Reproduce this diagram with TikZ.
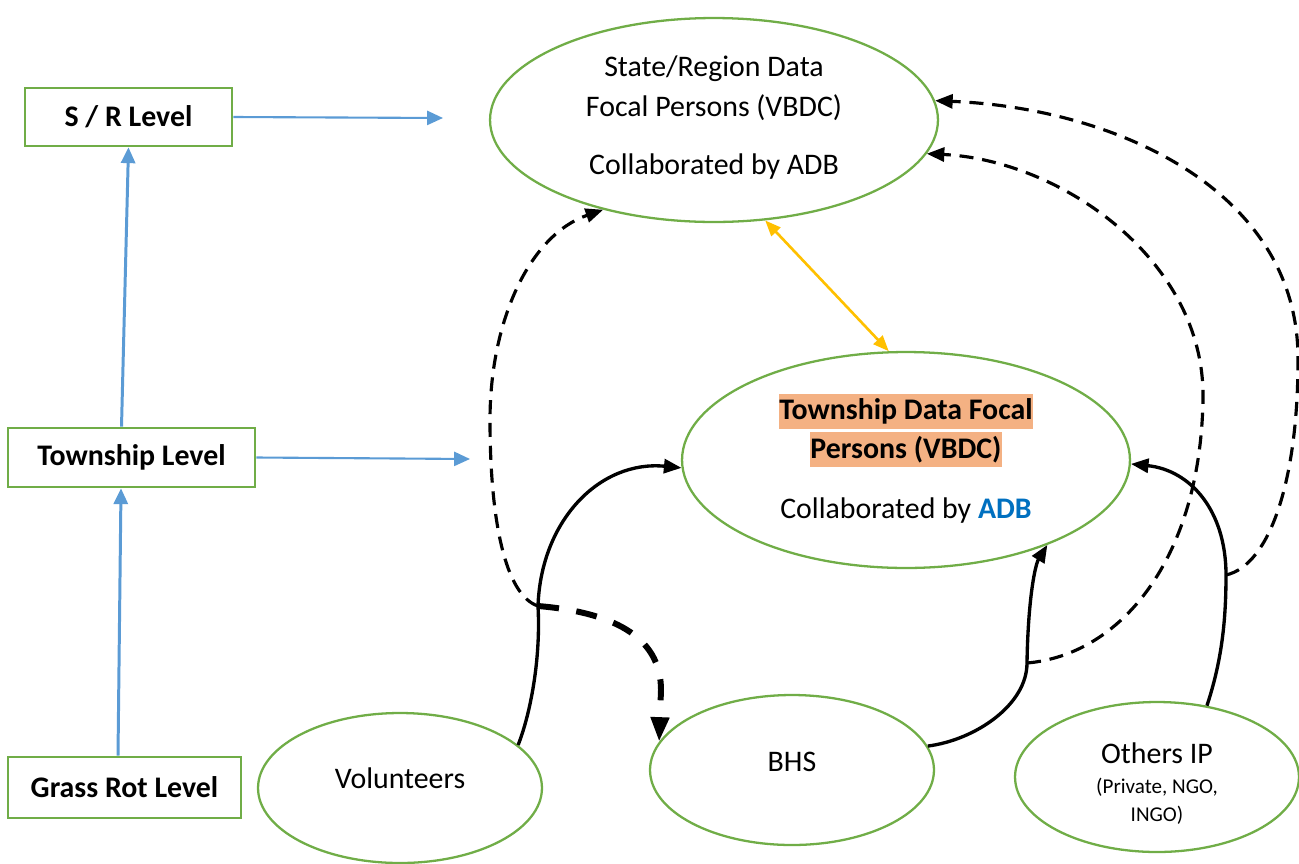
\documentclass[tikz,border=0pt]{standalone}
\usepackage{fontspec}
\setmainfont{Carlito}
\usepackage{xcolor}
\usetikzlibrary{positioning}
\usetikzlibrary{arrows.meta}
\usetikzlibrary{shapes.geometric}
\definecolor{boxgreen}{HTML}{70AD47}
\definecolor{lineblue}{HTML}{5B9BD5}
\definecolor{linegold}{HTML}{FFC000}
\definecolor{hlorange}{HTML}{F4B183}
\definecolor{adbblue}{HTML}{0070C0}
\tikzset{level/.style = {draw=boxgreen, line width=1.5pt, inner sep=0,
                         font=\bfseries\fontsize{17}{20}\selectfont}}
\tikzset{blob/.style = {draw=boxgreen, ellipse, line width=1.3pt, inner sep=0}}
\tikzset{txt/.style = {align=center, inner sep=0,
                       font=\fontsize{17}{22.7}\selectfont}}
\tikzset{hl/.style = {fill=hlorange, inner sep=0, minimum height=0.7cm,
                      font=\bfseries\fontsize{17}{20}\selectfont}}
\tikzset{bluearr/.style = {draw=lineblue, line width=1.7pt,
                           -{Triangle[length=9pt,width=8pt]}}}
\tikzset{blkarr/.style = {line width=1.9pt, -{Triangle[length=10pt,width=8pt]}}}
\tikzset{dashln/.style = {line width=1.8pt, dash pattern=on 8pt off 5pt,
                          -{Triangle[length=10pt,width=8pt]}}}
\tikzset{bolddash/.style = {line width=3.4pt, dash pattern=on 12pt off 10pt,
                            -{Triangle[length=14pt,width=10pt]}}}
\begin{document}
\begin{tikzpicture}[x=0.02cm, y=-0.02cm]
  \useasboundingbox (0,0) rectangle (1299,863);
  % levels
  \node[level, minimum width=4.14cm, minimum height=1.16cm] (srbox) at (128.5,117) {S / R Level};
  \node[level, minimum width=4.94cm, minimum height=1.18cm] (twpbox) at (131.5,457.5) {Township Level};
  \node[level, minimum width=4.66cm, minimum height=1.22cm] (grassbox) at (124.5,787.5) {Grass Rot Level};
  % ellipses
  \node[blob, minimum width=8.96cm, minimum height=4.08cm] (st) at (714,120) {};
  \node[blob, minimum width=8.96cm, minimum height=4.32cm] (tw) at (906,460) {};
  \node[blob, minimum width=5.68cm, minimum height=3cm] (vol) at (400,788) {};
  \node[blob, minimum width=5.68cm, minimum height=3cm] (bhs) at (792,770) {};
  \node[blob, minimum width=5.68cm, minimum height=3cm] (oth) at (1157,777) {};
  \node[txt] (sttxt) at (714,88) {State/Region Data\\Focal Persons (VBDC)};
  \node[txt] (stcol) at (714,167) {Collaborated by ADB};
  \node[hl] (twline1) at (906,411.5) {Township Data Focal};
  \node[hl] (twline2) at (906,449.5) {Persons (VBDC)};
  \node[txt] (twcol) at (906,511) {Collaborated by \textcolor{adbblue}{\bfseries ADB}};
  \node[txt] (voltxt) at (400,778) {Volunteers};
  \node[txt] (bhstxt) at (792,762) {BHS};
  \node[txt] (othtxt) at (1157,753) {Others IP};
  \node[txt, font=\fontsize{12}{15.9}\selectfont] (othsub) at (1157,801) {(Private, NGO,\\INGO)};
  \coordinate (srend) at (443,118);
  \coordinate (twpend) at (470,459);
  \coordinate (vj) at (538,606);
  \coordinate (bk) at (1027,663);
  \coordinate (ok) at (1226,575);
  % blue level arrows
  \draw[bluearr, line width=1.2pt] (srbox.east) -- (srend);
  \draw[bluearr, line width=1.2pt] (twpbox.east) -- (twpend);
  \draw[bluearr] ([xshift=-0.2cm]twpbox.north) -- (srbox.south);
  \draw[bluearr] ([xshift=-0.13cm]grassbox.north) -- ([xshift=-0.21cm]twpbox.south);
  \draw[linegold, line width=1.5pt, {Triangle[length=9pt,width=7pt]}-{Triangle[length=9pt,width=7pt]}]
    (st.297) -- (tw.99);
  % flows
  \draw[blkarr] (vol.20) .. controls (530,715) and (541,660) .. (vj)
    .. controls (541,520) and (600,460) .. (tw.182);
  \draw[dashln] (vj) .. controls (505,595) and (490,520) .. (490,420)
    .. controls (490,320) and (530,235) .. (st.219);
  \draw[bolddash] (vj) .. controls (610,612) and (661,635) .. (661,690) -- (bhs.168);
  \draw[blkarr] (bhs.10) .. controls (975,740) and (1027,705) .. (bk)
    .. controls (1028,600) and (1035,565) .. (tw.329);
  \draw[dashln] (bk) .. controls (1120,655) and (1200,560) .. (1203,400)
    .. controls (1206,260) and (1060,160) .. (st.351);
  \draw[blkarr] (oth.55) .. controls (1222,660) and (1226,620) .. (ok)
    .. controls (1226,510) and (1190,470) .. (tw.359);
  \draw[dashln] (ok) .. controls (1270,565) and (1298,480) .. (1298,360)
    .. controls (1299,190) and (1115,108) .. (st.5);
\end{tikzpicture}
\end{document}
